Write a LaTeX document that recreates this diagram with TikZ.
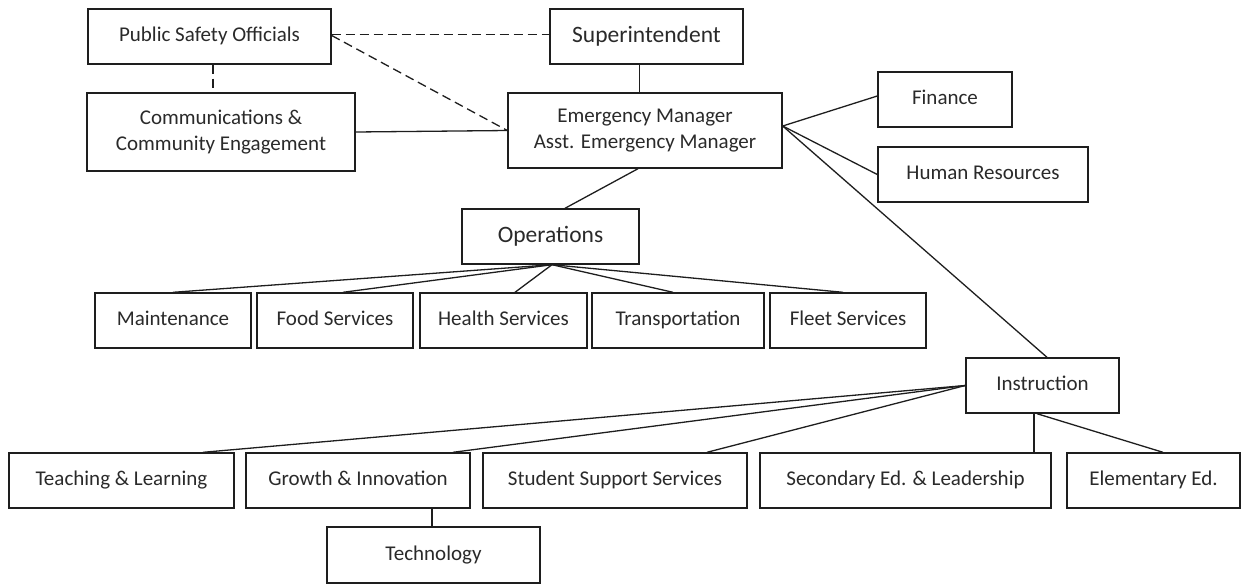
\documentclass[tikz,border=0pt]{standalone}
\usepackage{fontspec}
\setmainfont{Carlito}
\definecolor{txt}{HTML}{2A2A2A}
\definecolor{ln}{HTML}{1E1E1E}
\tikzset{
  box2/.style={draw=ln, line width=1.4pt, fill=white, inner sep=0pt, align=center,
    text=txt, font=\fontsize{21}{26}\selectfont, minimum height=55pt},
  box/.style={box2, text height=14.5pt, text depth=4.5pt},
  bigbox/.style={box, font=\fontsize{23.5}{28}\selectfont, text height=16pt, text depth=5pt},
  conn/.style={draw=ln, line width=1.3pt},
  dconn/.style={conn, dash pattern=on 9pt off 5pt}
}
\begin{document}
\begin{tikzpicture}[x=1pt,y=-1pt]
\useasboundingbox (0,0) rectangle (1248,584);
% top
\node[box, minimum width=243pt] (pso) at (209.5,36.5) {Public Safety Officials};
\node[bigbox, minimum width=193pt] (sup) at (646.5,36.5) {Superintendent};
\node[box2, minimum width=268pt, minimum height=78pt] (comm) at (221,132) {Communications \&\\Community Engagement};
\node[box2, minimum width=274pt, minimum height=75pt] (em) at (645,130.5) {Emergency Manager\\Asst. Emergency Manager};
\node[box, minimum width=134pt] (fin) at (945,99.5) {Finance};
\node[box, minimum width=210pt] (hr) at (983,174.5) {Human Resources};
% operations
\node[bigbox, minimum width=177pt] (ops) at (550.5,236.5) {Operations};
\node[box, minimum width=156pt] (maint) at (173,320.5) {Maintenance};
\node[box, minimum width=156pt] (food) at (335,320.5) {Food Services};
\node[box, minimum width=167pt] (health) at (503.5,320.5) {Health Services};
\node[box, minimum width=172pt] (trans) at (678,320.5) {Transportation};
\node[box, minimum width=156pt] (fleet) at (848,320.5) {Fleet Services};
% instruction
\node[box, minimum width=153pt] (instr) at (1042.5,385.5) {Instruction};
\node[box, minimum width=225pt] (teach) at (121.5,480.5) {Teaching \& Learning};
\node[box, minimum width=224pt] (growth) at (358,480.5) {Growth \& Innovation};
\node[box, minimum width=264pt] (sss) at (615,480.5) {Student Support Services};
\node[box, minimum width=291pt] (sec) at (905.5,480.5) {Secondary Ed. \& Leadership};
\node[box, minimum width=173pt] (elem) at (1153.5,480.5) {Elementary Ed.};
\node[box, minimum width=213pt, minimum height=56pt] (tech) at (433.5,555) {Technology};
% connectors
\draw[dconn] ([yshift=2pt]pso.east) -- ([yshift=2pt]sup.west);
\draw[dconn] ([yshift=1pt]pso.east) -- (em.west);
\draw[dconn] ([xshift=3.5pt]pso.south) -- ([xshift=3.5pt]pso.south |- comm.north);
\draw[conn] (comm.east) -- (em.west);
\draw[conn] ([xshift=-7pt]sup.south) -- ([xshift=-7pt]sup.south |- em.north);
\draw[conn] ([xshift=-7pt]em.south) -- ([xshift=14.5pt]ops.north);
\coordinate (emr) at ([yshift=4.5pt]em.east);
\draw[conn] (emr) -- ([yshift=3.5pt]fin.west);
\draw[conn] (emr) -- (hr.west);
\draw[conn] (emr) -- ([xshift=4.5pt]instr.north);
\coordinate (opsb) at ([xshift=1.5pt]ops.south);
\draw[conn] (opsb) -- (maint.north);
\draw[conn] (opsb) -- ([xshift=8pt]food.north);
\draw[conn] (opsb) -- ([xshift=11.5pt]health.north);
\draw[conn] (opsb) -- ([xshift=-5pt]trans.north);
\draw[conn] (opsb) -- ([xshift=-5pt]fleet.north);
\draw[conn] (instr.west) -- ([xshift=81.5pt]teach.north);
\draw[conn] (instr.west) -- ([xshift=95pt]growth.north);
\draw[conn] (instr.west) -- ([xshift=92pt]sss.north);
\coordinate (instrb) at ([xshift=-8.5pt]instr.south);
\draw[conn] (instrb) -- (instrb |- sec.north);
\draw[conn] ([xshift=-5.5pt]instr.south) -- ([xshift=9.5pt]elem.north);
\draw[conn] ([xshift=74pt]growth.south) -- ([xshift=74pt]growth.south |- tech.north);
\end{tikzpicture}
\end{document}
